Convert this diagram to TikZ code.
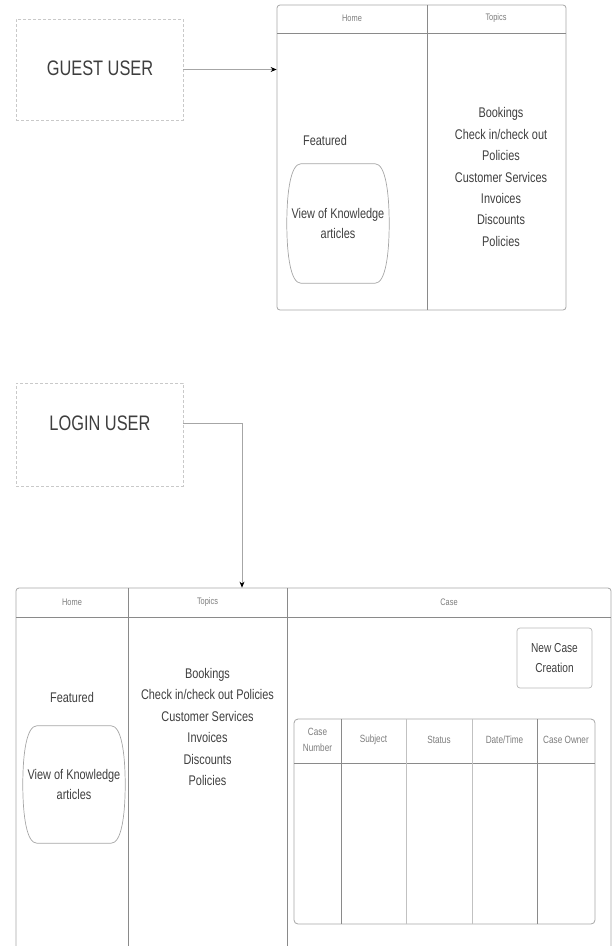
\documentclass[tikz,border=0pt]{standalone}
\usepackage{fontspec}
\setmainfont{Liberation Sans}[FakeStretch=0.78]
\usetikzlibrary{arrows.meta, positioning, calc}
\definecolor{linegray}{HTML}{A6A6A6}
\definecolor{darkline}{HTML}{8A8A8A}
\definecolor{dashgray}{HTML}{C9C9C9}
\definecolor{textgray}{HTML}{3E3E3E}
\definecolor{hdrgray}{HTML}{7C7C7C}

% outline of a knowledge article blob round a named node
\newcommand{\kbblob}[1]{%
  \draw[blobline] ([xshift=14pt]#1.north west) -- ([xshift=-14pt]#1.north east)
    .. controls ([xshift=-4pt]#1.north east) and ([yshift=32pt]#1.east) .. (#1.east)
    .. controls ([yshift=-32pt]#1.east) and ([xshift=-4pt]#1.south east) .. ([xshift=-14pt]#1.south east)
    -- ([xshift=14pt]#1.south west)
    .. controls ([xshift=4pt]#1.south west) and ([yshift=-32pt]#1.west) .. (#1.west)
    .. controls ([yshift=32pt]#1.west) and ([xshift=4pt]#1.north west) .. cycle;}

\begin{document}
\begin{tikzpicture}[
    x=1pt, y=-1pt,
    userbox/.style={draw=dashgray, dash pattern=on 3pt off 2pt, line width=0.8pt, inner sep=0pt},
    usertext/.style={text=textgray, font=\fontsize{21}{24}\selectfont},
    panel/.style={draw=linegray, line width=0.8pt, rounded corners=3pt, inner sep=0pt},
    colline/.style={draw=darkline, line width=0.8pt},
    thinline/.style={draw=linegray!70, line width=0.6pt},
    hdr/.style={text=hdrgray, font=\fontsize{9.5}{11}\selectfont},
    label/.style={text=textgray, align=center, font=\fontsize{14}{21.4}\selectfont},
    blobline/.style={draw=linegray, line width=0.7pt},
    kbnode/.style={text=textgray, align=center, inner sep=0pt, minimum width=102pt, font=\fontsize{14}{20}\selectfont},
    casebtn/.style={draw=linegray!80, line width=0.7pt, rounded corners=3pt, align=center, text=textgray, font=\fontsize{13}{20}\selectfont},
    colhdr/.style={text=hdrgray, align=center, font=\fontsize{10.5}{16}\selectfont},
    flow/.style={draw=linegray, line width=0.7pt, -{Stealth[black, length=6pt, width=5pt]}}
]
    \useasboundingbox (0,0) rectangle (613,946);
    \clip (0,0) rectangle (613,946);

    % Guest user
    \node[userbox, minimum width=167pt, minimum height=101pt] (guest) at (99.5,69.5) {};
    \node[usertext] (guesttxt) at (100,68) {GUEST USER};

    % Guest portal
    \node[panel, minimum width=289pt, minimum height=305pt] (gportal) at (421.5,157.5) {};
    \draw[colline] (277,33) -- (566,33);
    \draw[colline] (427,5) -- (427,310);
    \node[hdr] (ghome) at (352,18) {Home};
    \node[hdr] (gtopics) at (496,18) {Topics};

    \node[label] (gfeat) at (325,140) {Featured};
    \node[kbnode, minimum height=119pt] (gkb) at (338,223.5) {View of Knowledge\\articles};
    \kbblob{gkb}
    \node[label] (glist) at (501,177) {Bookings\\Check in/check out\\Policies\\Customer Services\\Invoices\\Discounts\\Policies};

    \draw[flow] (guest.east) -- (guest.east -| gportal.west);

    % Login user
    \node[userbox, minimum width=167pt, minimum height=103pt] (login) at (99.5,434.5) {};
    \node[usertext] (logintxt) at (100,423) {LOGIN USER};

    % Login portal
    \node[panel, minimum width=595pt, minimum height=380pt] (lportal) at (313.5,778) {};
    \draw[colline] (16,617) -- (611,617);
    \draw[colline] (128,588) -- (128,946);
    \draw[colline] (287,588) -- (287,946);
    \node[hdr] (lhome) at (72,602) {Home};
    \node[hdr] (ltopics) at (207.5,602) {Topics};
    \node[hdr] (lcase) at (449,602) {Case};

    \coordinate (bend) at (242,423);
    \draw[flow] (logintxt.east -| login.east) -- (bend) -- (bend |- lportal.north);

    \node[label] (lfeat) at (72,697) {Featured};
    \node[kbnode, minimum height=117pt] (lkb) at (74,784.5) {View of Knowledge\\articles};
    \kbblob{lkb}
    \node[label] (llist) at (207.5,727) {Bookings\\Check in/check out Policies\\Customer Services\\Invoices\\Discounts\\Policies};

    \node[casebtn, minimum width=75pt, minimum height=60pt] (newcase) at (554.5,658) {New Case\\Creation};

    % Case table
    \node[panel, rounded corners=4pt, minimum width=301pt, minimum height=205pt] (cases) at (444.5,821.5) {};
    \draw[colline] (294,763) -- (595,763);
    \draw[colline] (341,719) -- (341,924);
    \draw[thinline] (406,719) -- (406,924);
    \draw[thinline] (472,719) -- (472,924);
    \draw[colline] (537,719) -- (537,924);
    \node[colhdr] (cnum) at (317.5,740) {Case\\Number};
    \node[colhdr] (csubj) at (373.5,740) {Subject};
    \node[colhdr] (cstat) at (439,740) {Status};
    \node[colhdr] (cdate) at (504.5,740) {Date/Time};
    \node[colhdr] (cown) at (566,740) {Case Owner};
\end{tikzpicture}
\end{document}
